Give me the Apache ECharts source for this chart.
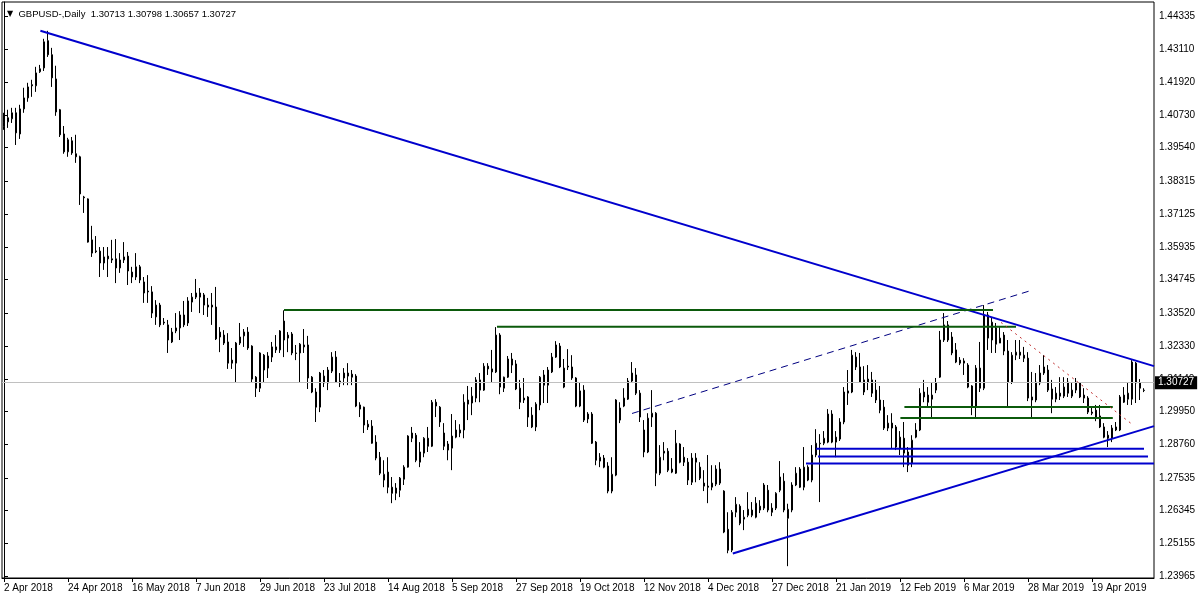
<!DOCTYPE html>
<html><head><meta charset="utf-8">
<script src="https://cdn.jsdelivr.net/npm/echarts@6/dist/echarts.min.js"></script>
<style>html,body{margin:0;padding:0;background:#fff;}#chart{width:1200px;height:600px;}</style>
</head><body><div id="chart"></div>
<script>
// ---- header ----
const symbolTitle = 'GBPUSD-,Daily';
const lastQuote = ['1.30713', '1.30798', '1.30657', '1.30727'];
const lastPrice = 1.30727;

// ---- price axis tick labels ----
const priceTicks = [1.23965, 1.25155, 1.26345, 1.27535, 1.28760, 1.29950, 1.31140, 1.32330, 1.33520,
  1.34745, 1.35935, 1.37125, 1.38315, 1.39540, 1.40730, 1.41920, 1.43110, 1.44335];

// ---- daily OHLC, one value per trading day from 2 Apr 2018 ----
const opens = [
1.4030,1.4048,1.4059,1.4081,1.4004,1.4095,1.4135,1.4183,1.4179,1.4230,
1.4244,1.4343,1.4292,1.4204,1.4092,1.4004,1.3939,1.3979,1.3932,1.3921,
1.3775,1.3768,1.3619,1.3579,1.3578,1.3535,1.3560,1.3550,1.3550,1.3517,
1.3546,1.3560,1.3502,1.3484,1.3521,1.3466,1.3433,1.3430,1.3339,1.3382,
1.3320,1.3310,1.3248,1.3288,1.3299,1.3346,1.3317,1.3393,1.3411,1.3426,
1.3419,1.3382,1.3382,1.3375,1.3266,1.3273,1.3248,1.3182,1.3171,1.3244,
1.3270,1.3284,1.3233,1.3120,1.3080,1.3200,1.3153,1.3193,1.3230,1.3219,
1.3324,1.3262,1.3277,1.3208,1.3208,1.3237,1.3237,1.3120,1.3066,1.3011,
1.3099,1.3099,1.3142,1.3193,1.3106,1.3117,1.3135,1.3131,1.3124,1.3019,
1.3011,1.2949,1.2942,1.2884,1.2829,1.2746,1.2775,1.2720,1.2698,1.2709,
1.2749,1.2793,1.2898,1.2909,1.2811,1.2844,1.2898,1.2869,1.3029,1.3011,
1.2917,1.2877,1.2862,1.2902,1.2928,1.2928,1.3022,1.3026,1.3044,1.3110,
1.3073,1.3160,1.3150,1.3139,1.3273,1.3080,1.3120,1.3186,1.3168,1.3080,
1.3044,1.3048,1.2982,1.2939,1.3019,1.3128,1.3091,1.3139,1.3193,1.3233,
1.3084,1.3160,1.3157,1.3117,1.3015,1.3073,1.2968,1.2986,1.2884,1.2815,
1.2826,1.2797,1.2706,1.2764,1.3008,1.3015,1.3040,1.3106,1.3128,1.3062,
1.2928,1.2848,1.2975,1.2989,1.2771,1.2851,1.2851,1.2786,1.2771,1.2877,
1.2829,1.2811,1.2738,1.2811,1.2793,1.2735,1.2724,1.2720,1.2731,1.2786,
1.2706,1.2567,1.2491,1.2629,1.2651,1.2604,1.2618,1.2637,1.2611,1.2651,
1.2644,1.2709,1.2644,1.2644,1.2709,1.2742,1.2607,1.2637,1.2728,1.2786,
1.2720,1.2793,1.2746,1.2837,1.2880,1.2880,1.2884,1.2986,1.2902,1.2895,
1.2957,1.3062,1.3066,1.3193,1.3157,1.3066,1.3113,1.3110,1.3073,1.3037,
1.3011,1.2935,1.2953,1.2939,1.2902,1.2898,1.2848,1.2807,1.2902,1.2928,
1.3066,1.3055,1.3040,1.3073,1.3120,1.3255,1.3310,1.3266,1.3219,1.3182,
1.3171,1.3164,1.3088,1.3011,1.3153,1.3080,1.3346,1.3255,1.3299,1.3244,
1.3273,1.3215,1.3102,1.3200,1.3211,1.3200,1.3189,1.3048,1.3037,1.3099,
1.3135,1.3146,1.3077,1.3040,1.3062,1.3051,1.3102,1.3051,1.3073,1.3099,
1.3055,1.3044,1.2993,1.3000,1.2979,1.2939,1.2909,1.2898,1.2928,1.2928,
1.3029,1.3040,1.3040,1.3171,1.3099,1.30713];
const highs = [
1.4081,1.4092,1.4099,1.4099,1.4110,1.4172,1.4190,1.4201,1.4248,1.4255,
1.4350,1.4379,1.4317,1.4252,1.4095,1.4033,1.3990,1.3993,1.4001,1.3925,
1.3779,1.3770,1.3670,1.3633,1.3593,1.3593,1.3593,1.3619,1.3622,1.3571,
1.3611,1.3575,1.3521,1.3571,1.3528,1.3484,1.3491,1.3451,1.3400,1.3390,
1.3335,1.3328,1.3299,1.3353,1.3360,1.3397,1.3411,1.3426,1.3477,1.3444,
1.3426,1.3408,1.3426,1.3448,1.3302,1.3291,1.3280,1.3226,1.3248,1.3317,
1.3295,1.3302,1.3236,1.3124,1.3211,1.3204,1.3211,1.3248,1.3273,1.3291,
1.3363,1.3284,1.3284,1.3237,1.3244,1.3295,1.3270,1.3124,1.3080,1.3139,
1.3146,1.3157,1.3211,1.3215,1.3135,1.3153,1.3171,1.3146,1.3131,1.3029,
1.3013,1.2964,1.2964,1.2909,1.2848,1.2818,1.2829,1.2757,1.2735,1.2757,
1.2800,1.2909,1.2939,1.2917,1.2884,1.2902,1.2939,1.3037,1.3040,1.3015,
1.2953,1.2888,1.2986,1.2964,1.2949,1.3058,1.3088,1.3084,1.3120,1.3135,
1.3171,1.3171,1.3219,1.3302,1.3280,1.3122,1.3197,1.3208,1.3182,1.3110,
1.3117,1.3051,1.3011,1.3029,1.3124,1.3146,1.3157,1.3208,1.3251,1.3244,
1.3186,1.3222,1.3200,1.3120,1.3102,1.3091,1.2993,1.2993,1.2888,1.2844,
1.2837,1.2811,1.2829,1.3040,1.3029,1.3080,1.3117,1.3175,1.3153,1.3073,
1.2964,1.2989,1.3073,1.2993,1.2873,1.2884,1.2862,1.2826,1.2928,1.2880,
1.2866,1.2826,1.2844,1.2844,1.2811,1.2782,1.2837,1.2800,1.2800,1.2811,
1.2709,1.2629,1.2637,1.2684,1.2658,1.2637,1.2702,1.2666,1.2684,1.2673,
1.2735,1.2728,1.2662,1.2702,1.2815,1.2771,1.2660,1.2738,1.2793,1.2793,
1.2866,1.2800,1.2873,1.2931,1.2913,1.2924,1.3004,1.3000,1.2924,1.2971,
1.3084,1.3146,1.3219,1.3211,1.3208,1.3160,1.3164,1.3139,1.3110,1.3088,
1.3037,1.2982,1.2989,1.2946,1.2924,1.2957,1.2866,1.2909,1.2953,1.3080,
1.3110,1.3084,1.3099,1.3117,1.3288,1.3353,1.3324,1.3284,1.3244,1.3193,
1.3189,1.3171,1.3091,1.3164,1.3248,1.3382,1.3357,1.3335,1.3317,1.3302,
1.3284,1.3255,1.3211,1.3255,1.3255,1.3230,1.3211,1.3139,1.3135,1.3164,
1.3200,1.3164,1.3110,1.3084,1.3120,1.3120,1.3117,1.3099,1.3117,1.3102,
1.3080,1.3051,1.3008,1.3019,1.3019,1.2953,1.2924,1.2946,1.2957,1.3055,
1.3084,1.3099,1.3182,1.3175,1.3113,1.30798];
const lows = [
1.4019,1.4026,1.4044,1.3964,1.3986,1.4081,1.4121,1.4139,1.4157,1.4226,
1.4233,1.4284,1.4175,1.4070,1.3993,1.3932,1.3921,1.3928,1.3899,1.3746,
1.3717,1.3609,1.3557,1.3571,1.3484,1.3510,1.3484,1.3535,1.3462,1.3499,
1.3535,1.3455,1.3462,1.3473,1.3462,1.3390,1.3390,1.3335,1.3310,1.3302,
1.3310,1.3208,1.3244,1.3280,1.3255,1.3302,1.3306,1.3357,1.3404,1.3353,
1.3346,1.3339,1.3310,1.3255,1.3211,1.3237,1.3150,1.3150,1.3102,1.3237,
1.3230,1.3219,1.3102,1.3048,1.3066,1.3102,1.3117,1.3175,1.3208,1.3208,
1.3193,1.3211,1.3200,1.3182,1.3102,1.3208,1.3077,1.3062,1.2957,1.2993,
1.3084,1.3073,1.3135,1.3099,1.3084,1.3091,1.3091,1.3091,1.3011,1.2975,
1.2917,1.2928,1.2878,1.2818,1.2764,1.2720,1.2698,1.2662,1.2673,1.2684,
1.2728,1.2791,1.2884,1.2811,1.2793,1.2829,1.2848,1.2866,1.2975,1.2939,
1.2855,1.2818,1.2782,1.2898,1.2902,1.2898,1.2964,1.2982,1.3029,1.3029,
1.3070,1.3128,1.3099,1.3135,1.3058,1.3066,1.3117,1.3135,1.3073,1.3004,
1.3026,1.2939,1.2935,1.2924,1.3000,1.3026,1.3026,1.3135,1.3190,1.3153,
1.3080,1.3146,1.3110,1.3011,1.3011,1.2957,1.2953,1.2877,1.2800,1.2793,
1.2789,1.2698,1.2698,1.2760,1.2953,1.3011,1.3037,1.3099,1.3055,1.2957,
1.2829,1.2844,1.2939,1.2724,1.2764,1.2818,1.2775,1.2771,1.2768,1.2807,
1.2797,1.2728,1.2728,1.2738,1.2746,1.2706,1.2662,1.2709,1.2724,1.2728,
1.2553,1.2480,1.2484,1.2611,1.2582,1.2564,1.2611,1.2611,1.2607,1.2626,
1.2637,1.2629,1.2615,1.2637,1.2702,1.2629,1.2433,1.2629,1.2724,1.2717,
1.2709,1.2742,1.2738,1.2829,1.2666,1.2873,1.2880,1.2880,1.2829,1.2888,
1.2949,1.3019,1.3062,1.3146,1.3099,1.3055,1.3073,1.3048,1.3026,1.2989,
1.2928,1.2924,1.2862,1.2855,1.2837,1.2793,1.2775,1.2793,1.2898,1.2924,
1.3029,1.3011,1.2971,1.3062,1.3117,1.3248,1.3248,1.3200,1.3171,1.3164,
1.3128,1.3080,1.2982,1.2971,1.3066,1.3073,1.3219,1.3208,1.3208,1.3244,
1.3200,1.3008,1.3095,1.3182,1.3186,1.3175,1.3033,1.2975,1.3029,1.3091,
1.3128,1.3066,1.2989,1.3029,1.3037,1.3044,1.3048,1.3044,1.3062,1.3044,
1.3026,1.2986,1.2982,1.2960,1.2935,1.2898,1.2866,1.2884,1.2924,1.2924,
1.3026,1.3019,1.3019,1.3026,1.3037,1.30657];
const closes = [
1.4044,1.4063,1.4081,1.4008,1.4095,1.4135,1.4175,1.4179,1.4226,1.4241,
1.4339,1.4292,1.4208,1.4084,1.4001,1.3939,1.3983,1.3935,1.3921,1.3786,
1.3772,1.3611,1.3571,1.3576,1.3535,1.3557,1.3550,1.3546,1.3517,1.3546,
1.3557,1.3506,1.3484,1.3521,1.3473,1.3426,1.3430,1.3353,1.3382,1.3310,
1.3317,1.3255,1.3284,1.3299,1.3346,1.3310,1.3397,1.3411,1.3426,1.3411,
1.3382,1.3375,1.3375,1.3259,1.3284,1.3244,1.3171,1.3171,1.3244,1.3266,
1.3284,1.3226,1.3113,1.3080,1.3208,1.3146,1.3197,1.3230,1.3219,1.3288,
1.3255,1.3273,1.3208,1.3206,1.3240,1.3230,1.3117,1.3066,1.3011,1.3135,
1.3124,1.3146,1.3193,1.3102,1.3099,1.3135,1.3124,1.3120,1.3015,1.3004,
1.2946,1.2939,1.2880,1.2826,1.2771,1.2767,1.2720,1.2698,1.2717,1.2753,
1.2793,1.2906,1.2917,1.2818,1.2848,1.2898,1.2869,1.3029,1.3015,1.2957,
1.2869,1.2855,1.2906,1.2928,1.2917,1.3029,1.3037,1.3051,1.3110,1.3073,
1.3160,1.3150,1.3139,1.3273,1.3084,1.3120,1.3186,1.3164,1.3077,1.3029,
1.3037,1.2975,1.2939,1.3022,1.3120,1.3091,1.3146,1.3193,1.3237,1.3157,
1.3153,1.3157,1.3117,1.3015,1.3070,1.2964,1.2986,1.2880,1.2818,1.2829,
1.2793,1.2706,1.2767,1.3037,1.2964,1.3044,1.3106,1.3135,1.3062,1.2975,
1.2848,1.2971,1.2989,1.2771,1.2829,1.2844,1.2782,1.2775,1.2880,1.2811,
1.2811,1.2746,1.2826,1.2826,1.2753,1.2724,1.2720,1.2735,1.2786,1.2735,
1.2557,1.2491,1.2629,1.2658,1.2589,1.2611,1.2640,1.2618,1.2662,1.2637,
1.2728,1.2637,1.2629,1.2698,1.2757,1.2637,1.2640,1.2728,1.2771,1.2720,
1.2793,1.2746,1.2837,1.2880,1.2878,1.2898,1.2986,1.2884,1.2884,1.2957,
1.3066,1.3070,1.3200,1.3157,1.3102,1.3110,1.3102,1.3062,1.3037,1.3000,
1.2935,1.2953,1.2935,1.2866,1.2862,1.2844,1.2800,1.2891,1.2928,1.3062,
1.3048,1.3029,1.3055,1.3099,1.3255,1.3310,1.3255,1.3208,1.3175,1.3171,
1.3179,1.3084,1.3011,1.3153,1.3080,1.3346,1.3262,1.3320,1.3240,1.3262,
1.3215,1.3102,1.3200,1.3211,1.3200,1.3189,1.3044,1.3037,1.3102,1.3135,
1.3157,1.3073,1.3040,1.3062,1.3051,1.3084,1.3062,1.3073,1.3102,1.3048,
1.3044,1.2993,1.2989,1.2971,1.2939,1.2902,1.2898,1.2935,1.2939,1.3048,
1.3055,1.3062,1.3175,1.3099,1.3080,1.30727];

// ---- drawn objects: [bar index, price] ----
const resistanceLine = [[9.1, 1.4379], [287.5, 1.3160]];
const supportLine = [[182.2, 1.2479], [287.5, 1.2942]];
const channelLine = [[157, 1.2988], [256.75, 1.3435]];
const greenLevel1 = [[70, 1.3364], [247.25, 1.3364]];
const greenLevel2 = [[123.25, 1.3303], [253, 1.3303]];
const greenLevel3 = [[225.1, 1.3012], [277.2, 1.3012]];
const greenLevel4 = [[224.1, 1.2972], [277.2, 1.2972]];
const blueLevel1 = [[203.0, 1.2860], [285, 1.2860]];
const blueLevel2 = [[203.5, 1.2832], [286, 1.2832]];
const blueLevel3 = [[200.5, 1.2806], [287.5, 1.2806]];
const redDotted = [[249.25, 1.3319], [281.75, 1.2952]];

// ---- trading-day categories ----
const monthNames = ['Jan','Feb','Mar','Apr','May','Jun','Jul','Aug','Sep','Oct','Nov','Dec'];
const holidays = ['2018-12-25', '2019-01-01'];
const categories = [];
for (let t = Date.UTC(2018, 3, 2); categories.length < 288; t += 86400000) {
  const d = new Date(t), wd = d.getUTCDay();
  if (wd === 0 || wd === 6) continue;
  if (holidays.includes(d.toISOString().slice(0, 10))) continue;
  categories.push(d.getUTCDate() + ' ' + monthNames[d.getUTCMonth()] + ' ' + d.getUTCFullYear());
}

const FONT = 'Liberation Sans';
const candles = opens.map((o, i) => [o, closes[i], lows[i], highs[i]]);

function objLine(data, color, width, type) {
  return { type: 'line', xAxisIndex: 1, yAxisIndex: 0, data: data, symbol: 'none', silent: true,
    lineStyle: { color: color, width: width, type: type }, z: 5, animation: false };
}

const chart = echarts.init(document.getElementById('chart'), null, { renderer: 'canvas' });
chart.setOption({
  animation: false,
  backgroundColor: '#ffffff',
  title: {
    text: '{tri|▼}  ' + symbolTitle + '  ' + lastQuote.join(' '),
    left: 2, top: 4,
    textStyle: { fontFamily: FONT, fontSize: 9.5, fontWeight: 'normal', color: '#000',
      rich: { tri: { fontSize: 8, color: '#000', fontFamily: 'DejaVu Sans' } } }
  },
  grid: { left: 2, right: 46, top: 2, bottom: 22, show: true, borderColor: '#000', borderWidth: 1, backgroundColor: 'transparent' },
  xAxis: [{
    type: 'category', data: categories, boundaryGap: true,
    axisLine: { show: true, lineStyle: { color: '#000', width: 1 } },
    axisTick: { show: true, alignWithLabel: true, length: 4, interval: (i) => i % 16 === 0, lineStyle: { color: '#000' } },
    axisLabel: { interval: (i) => i % 16 === 0, align: 'left', margin: 5, fontFamily: FONT, fontSize: 10, color: '#000' },
    splitLine: { show: false }
  }, {
    type: 'value', min: -0.5, max: 287.5, show: false
  }],
  yAxis: [{
    type: 'value', position: 'right', min: 1.23900, max: 1.44837, scale: true,
    axisLine: { show: true, lineStyle: { color: '#000', width: 1 } },
    axisTick: { show: true, length: 4, customValues: priceTicks, lineStyle: { color: '#000' } },
    axisLabel: { customValues: priceTicks, formatter: (v) => v.toFixed(5), margin: 5, fontFamily: FONT, fontSize: 10, color: '#000' },
    splitLine: { show: false }
  }],
  series: [
    {
      type: 'candlestick', xAxisIndex: 0, yAxisIndex: 0, data: candles, barWidth: 2,
      itemStyle: { color: '#ffffff', color0: '#000000', borderColor: '#000000', borderColor0: '#000000', borderWidth: 1 },
      z: 3,
      markLine: {
        silent: true, symbol: 'none', animation: false,
        data: [{ yAxis: lastPrice }],
        lineStyle: { color: '#c0c0c0', width: 1, type: 'solid' },
        label: { show: true, position: 'end', distance: 1, formatter: lastPrice.toFixed(5),
          backgroundColor: '#000', color: '#fff', fontFamily: FONT, fontSize: 10, padding: [2, 3, 1, 3] }
      }
    },
    objLine(resistanceLine, '#0000CD', 2, 'solid'),
    objLine(supportLine, '#0000CD', 2, 'solid'),
    objLine(channelLine, '#000080', 1, [7, 5]),
    objLine(greenLevel1, '#0B5A0B', 2, 'solid'),
    objLine(greenLevel2, '#0B5A0B', 2, 'solid'),
    objLine(greenLevel3, '#0B5A0B', 2, 'solid'),
    objLine(greenLevel4, '#0B5A0B', 2, 'solid'),
    objLine(blueLevel1, '#0000CD', 2, 'solid'),
    objLine(blueLevel2, '#0000CD', 2, 'solid'),
    objLine(blueLevel3, '#0000CD', 2, 'solid'),
    objLine(redDotted, '#C03030', 1, [2, 4])
  ]
});
</script></body></html>
